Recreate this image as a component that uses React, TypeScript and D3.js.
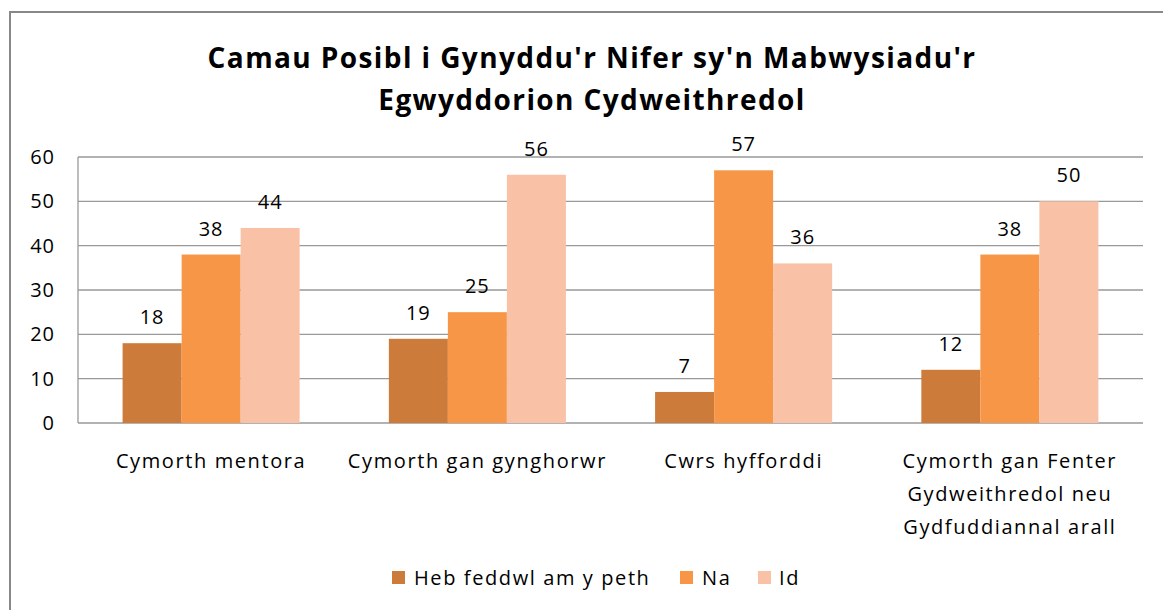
import React from 'react'
import * as d3 from 'd3'

const categories = [
    ['Cymorth mentora'],
    ['Cymorth gan gynghorwr'],
    ['Cwrs hyfforddi'],
    ['Cymorth gan Fenter', 'Gydweithredol neu', 'Gydfuddiannal arall'],
]
const seriesNames = ['Heb feddwl am y peth', 'Na', 'Id']
const hebFeddwl = [18, 19, 7, 12]
const na = [38, 25, 57, 38]
const id = [44, 56, 36, 50]
const yTicks = [0, 10, 20, 30, 40, 50, 60]
const colors = ['#CD7B3A', '#F79646', '#F9C2A7']

const font = '"Open Sans", Lato, sans-serif'

export default function App() {
    const width = 1163, height = 610
    const left = 78, right = 1143, top = 157, bottom = 423

    const series = [hebFeddwl, na, id]

    const x = d3.scaleBand<number>()
        .domain(d3.range(categories.length))
        .range([left, right])
        .paddingInner(0.335)
        .paddingOuter(0.1675)
    const xi = d3.scaleBand<number>()
        .domain(d3.range(series.length))
        .range([0, x.bandwidth()])

    const y = d3.scaleLinear([0, 60], [bottom, top])

    // legend layout
    const legendItems = [
        { x: 392, tx: 414 },
        { x: 680, tx: 702 },
        { x: 758, tx: 779 },
    ]

    const txt = { fontFamily: font, fontSize: 20, fill: '#000', letterSpacing: 1.6 }
    const title = { fontFamily: font, fontWeight: 'bold', fontSize: 28, fill: '#000', letterSpacing: 1.4, textAnchor: 'middle' }

    return <svg width={width} height={height} style={{ position: 'absolute', left: 0, top: 0, background: '#fff' }}>
        <rect x={10} y={12} width={1170} height={620} fill="#fff" stroke="#888" strokeWidth={2} />

        <text x={592} y={68} {...title}>
            Camau Posibl i Gynyddu'r Nifer sy'n Mabwysiadu'r
        </text>
        <text x={592} y={110} {...title}>
            Egwyddorion Cydweithredol
        </text>

        {yTicks.map(t => <g key={t}>
            <line x1={left} x2={right} y1={y(t)} y2={y(t)} stroke="#999" strokeWidth={1.3} />
            <text x={55} y={y(t) + 7} textAnchor="end" {...txt} letterSpacing={1}>{t}</text>
        </g>)}
        <line x1={left} x2={left} y1={top} y2={bottom} stroke="#999" strokeWidth={1.3} />

        {categories.map((c, i) => <g key={i}>
            {series.map((s, j) => {
                const bx = (x(i) ?? 0) + (xi(j) ?? 0)
                return <g key={j}>
                    <rect x={bx} y={y(s[i])} width={xi.bandwidth()} height={bottom - y(s[i])} fill={colors[j]} />
                    <text x={bx + xi.bandwidth() / 2} y={y(s[i]) - 19} textAnchor="middle" {...txt} letterSpacing={1}>{s[i]}</text>
                </g>
            })}
            {c.map((line, k) => <text key={k} x={(x(i) ?? 0) + x.bandwidth() / 2} y={468 + k * 33} textAnchor="middle" {...txt}>{line}</text>)}
        </g>)}

        {seriesNames.map((n, j) => <g key={n}>
            <rect x={legendItems[j].x} y={571} width={13} height={13} fill={colors[j]} />
            <text x={legendItems[j].tx} y={585} {...txt}>{n}</text>
        </g>)}
    </svg>
}
